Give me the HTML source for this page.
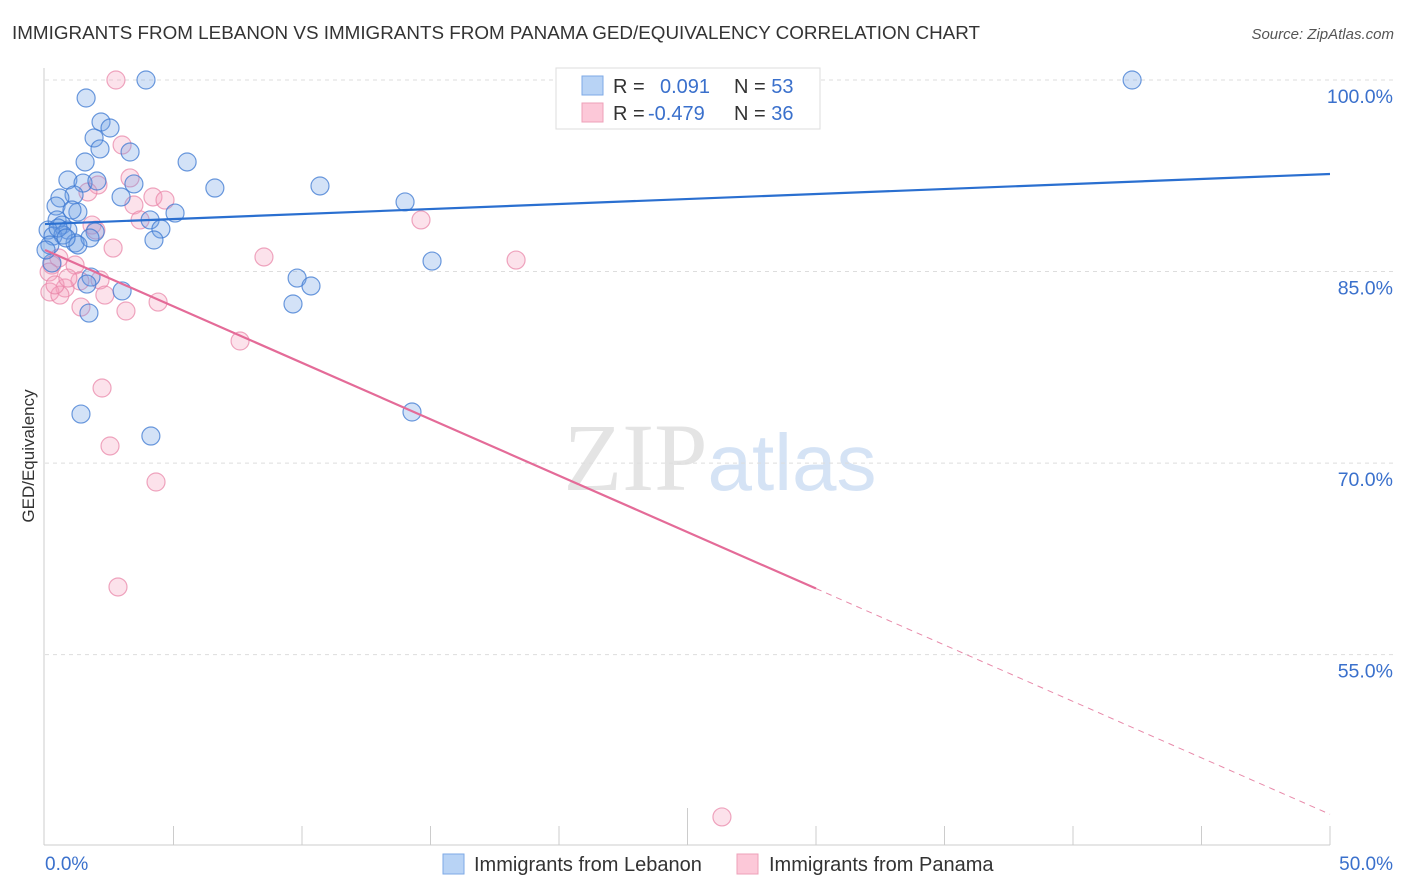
<!DOCTYPE html>
<html><head><meta charset="utf-8">
<style>
body{margin:0;background:#fff;font-family:"Liberation Sans",sans-serif;}
svg{display:block}
</style></head><body>
<svg id="chart" width="1406" height="892" xmlns="http://www.w3.org/2000/svg">
<text x="12" y="39" font-size="18" fill="#333" textLength="968" lengthAdjust="spacingAndGlyphs">IMMIGRANTS FROM LEBANON VS IMMIGRANTS FROM PANAMA GED/EQUIVALENCY CORRELATION CHART</text>
<text x="1394" y="39" font-size="15" fill="#555" text-anchor="end" font-style="italic">Source: ZipAtlas.com</text>
<text x="720" y="490" font-size="96" text-anchor="middle" font-family="Liberation Serif" fill="#e4e4e4">ZIP<tspan fill="#d5e3f5" font-family="Liberation Sans" font-size="80">atlas</tspan></text>
<g id="grid"></g>
<g id="axes"></g>
<text transform="translate(34,456) rotate(-90)" font-size="17" fill="#333" text-anchor="middle">GED/Equivalency</text>
<g id="pts"></g>
<g id="trends"></g>
<g>
<rect x="556" y="68" width="264" height="61" fill="#fff" stroke="#ddd"/>
<rect x="582" y="76" width="21" height="19" fill="#b8d3f5" stroke="#7ea9e6"/>
<rect x="582" y="103" width="21" height="19" fill="#fcc8d8" stroke="#eea0b8"/>
<text x="613" y="93" font-size="20" fill="#333">R = <tspan x="660" fill="#3a70cc">0.091</tspan><tspan x="734" fill="#333">N = </tspan><tspan fill="#3a70cc">53</tspan></text>
<text x="613" y="120" font-size="20" fill="#333">R = <tspan x="648" fill="#3a70cc">-0.479</tspan><tspan x="734" fill="#333">N = </tspan><tspan fill="#3a70cc">36</tspan></text>
</g>
<g>
<rect x="443" y="854" width="21" height="20" fill="#b8d3f5" stroke="#7ea9e6"/>
<text x="474" y="871" font-size="20" fill="#333">Immigrants from Lebanon</text>
<rect x="737" y="854" width="21" height="20" fill="#fcc8d8" stroke="#eea0b8"/>
<text x="769" y="871" font-size="20" fill="#333">Immigrants from Panama</text>
</g>
</svg>
<script>
const yTicks=[100,85,70,55];
const yTickLabels=["100.0%","85.0%","70.0%","55.0%"];
const xTicks=[0,5,10,15,20,25,30,35,40,45,50];
const xEdgeLabels=["0.0%","50.0%"];
const lebX=[3.93,42.30,1.60,2.18,2.53,1.91,2.14,3.31,5.53,1.56,0.89,1.48,2.02,3.46,6.61,10.70,1.13,0.58,2.96,14.01,0.43,1.28,1.05,5.06,0.47,4.09,0.66,4.51,0.12,0.89,1.95,4.24,0.31,1.17,0.70,1.75,0.19,1.28,15.06,0.27,9.81,1.79,10.35,1.63,3.0,9.65,1.71,1.40,14.28,4.12,0.04,0.51,0.82];
const lebY=[100,100,98.59,96.71,96.24,95.46,94.60,94.36,93.58,93.58,92.17,91.93,92.09,91.86,91.54,91.70,91.0,90.76,90.84,90.45,90.13,89.66,89.82,89.58,89.04,89.04,88.64,88.33,88.25,88.25,88.10,87.47,87.78,87.24,87.86,87.63,87.08,87.08,85.82,85.67,84.49,84.57,83.87,84.02,83.48,82.46,81.75,73.84,74.0,72.12,86.69,88.41,87.63];
const panX=[2.76,3.0,3.31,2.06,1.67,4.20,4.67,3.46,14.63,3.70,1.83,1.98,2.65,0.54,8.52,18.33,1.17,0.27,0.16,2.14,1.36,0.78,0.19,2.33,0.58,4.40,1.40,3.15,7.59,2.22,2.53,4.32,2.84,26.34,0.39,0.89];
const panY=[100,94.91,92.33,91.78,91.23,90.84,90.60,90.21,89.04,89.04,88.64,88.25,86.84,86.06,86.14,85.90,85.51,85.51,84.96,84.34,84.26,83.71,83.40,83.16,83.16,82.61,82.22,81.91,79.56,75.88,71.34,68.52,60.30,42.29,83.95,84.49];
const lebTrend=[88.72,92.64];
const panTrend=[86.69,42.5];
const panSolidEnd=30;

const X0=45,X1=1330,Ytop=80,PPU=12.77;
const sx=v=>X0+v/50*(X1-X0);
const sy=v=>Ytop+(100-v)*PPU;
const NS="http://www.w3.org/2000/svg";
function mk(tag,attrs,parent){const e=document.createElementNS(NS,tag);for(const k in attrs)e.setAttribute(k,attrs[k]);parent.appendChild(e);return e;}
const svg=document.getElementById('chart');
const grid=document.getElementById('grid'),axes=document.getElementById('axes');
yTicks.forEach((t,i)=>{
 const l=mk('line',{x1:45,x2:1394,y1:sy(t),y2:sy(t),stroke:'#ddd','stroke-dasharray':'4,4'},grid);
 
 
 const tx=mk('text',{x:1393,y:sy(t)+23,'font-size':19.5,fill:'#3a70cc','text-anchor':'end'},axes);
 tx.textContent=yTickLabels[i];
 
 
});
const yb=845;
let ax=mk('line',{x1:44,x2:44,y1:68,y2:yb,stroke:'#ccc'},axes);


ax=mk('line',{x1:44,x2:1330,y1:yb,y2:yb,stroke:'#ccc'},axes);


xTicks.forEach(t=>{
 if(t===0)return;
 const tk=mk('line',{x1:sx(t),x2:sx(t),y1:t===25?808:826,y2:yb,stroke:'#ccc'},axes);
 
 
});
let xl=mk('text',{x:45,y:870,'font-size':19,fill:'#3a70cc'},axes);xl.textContent=xEdgeLabels[0];


xl=mk('text',{x:1393,y:870,'font-size':19,fill:'#3a70cc','text-anchor':'end'},axes);xl.textContent=xEdgeLabels[1];


const pts=document.getElementById('pts');
panX.forEach((x,i)=>{
 const c=mk('circle',{cx:sx(x),cy:sy(panY[i]),r:9,fill:'rgba(245,160,190,0.3)',stroke:'rgba(232,130,165,0.7)','stroke-width':1.2},pts);
 
 
});
lebX.forEach((x,i)=>{
 const c=mk('circle',{cx:sx(x),cy:sy(lebY[i]),r:9,fill:'rgba(110,160,230,0.3)',stroke:'rgba(60,120,210,0.75)','stroke-width':1.2},pts);
 
 
});
const tr=document.getElementById('trends');
let l=mk('line',{x1:sx(0),y1:sy(lebTrend[0]),x2:sx(50),y2:sy(lebTrend[1]),stroke:'#2a6fd0','stroke-width':2.2},tr);


const pAt=x=>panTrend[0]+(panTrend[1]-panTrend[0])*x/50;
l=mk('line',{x1:sx(0),y1:sy(pAt(0)),x2:sx(panSolidEnd),y2:sy(pAt(panSolidEnd)),stroke:'#e46b98','stroke-width':2.2},tr);


l=mk('line',{x1:sx(panSolidEnd),y1:sy(pAt(panSolidEnd)),x2:sx(50),y2:sy(pAt(50)),stroke:'#e88aaa','stroke-width':1,'stroke-dasharray':'6,5'},tr);


</script>
</body></html>
